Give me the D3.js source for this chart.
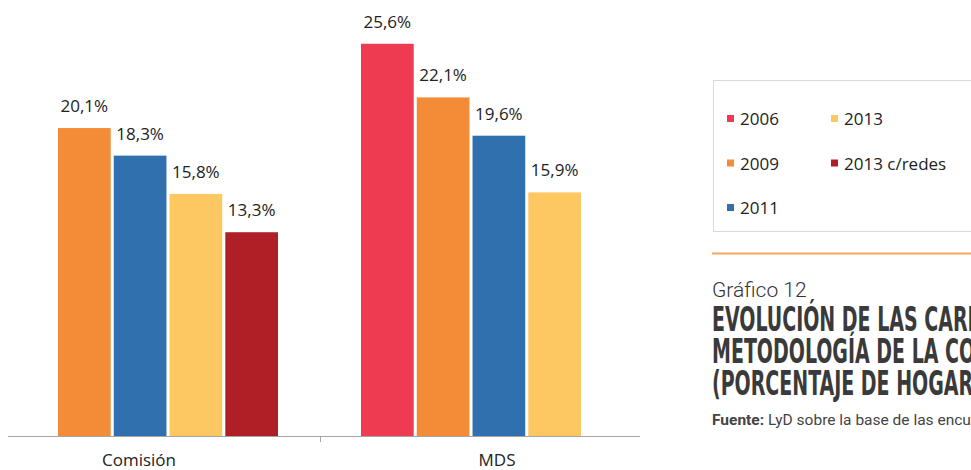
<!DOCTYPE html>
<html>
<head>
<meta charset="utf-8">
<script src="https://cdn.jsdelivr.net/npm/d3@7"></script>
<style>
  body { margin: 0; background: #fff; }
  svg { display: block; }
  .lbl { font-family: "Open Sans", "Noto Sans", sans-serif; fill: #222; }
</style>
</head>
<body>
<div id="chart"></div>
<script>
var categories = ["Comisión", "MDS"];
var series = ["2006", "2009", "2011", "2013", "2013 c/redes"];
var comision = [null, 20.1, 18.3, 15.8, 13.3];
var mds = [25.6, 22.1, 19.6, 15.9, null];
var colors = ["#ee3b52", "#f48c37", "#3070ae", "#fdc761", "#b11f26"];
var legendOrder = ["2006", "2013", "2009", "2013 c/redes", "2011"];

var width = 971, height = 470;
var baseline = 436;

var svg = d3.select("#chart").append("svg")
  .attr("width", width)
  .attr("height", height);

var values = [comision, mds];
var data = categories.map(function(c, i) {
  return {
    cat: c,
    bars: series.map(function(s, j) { return {serie: s, value: values[i][j], color: colors[j]}; })
      .filter(function(d) { return d.value != null; })
  };
});

var x0 = d3.scaleBand().domain(categories).range([16.5, 622.5]);
var xLabel = d3.scalePoint().domain(categories).range([139, 497]);
var y = d3.scaleLinear().domain([0, 28]).range([baseline, 7]);

// axis line + middle tick
svg.append("line")
  .attr("x1", 8).attr("x2", 640)
  .attr("y1", baseline + 0.5).attr("y2", baseline + 0.5)
  .attr("stroke", "#a6a6a6").attr("stroke-width", 1.2);
svg.append("line")
  .attr("x1", 320.5).attr("x2", 320.5)
  .attr("y1", baseline).attr("y2", baseline + 6)
  .attr("stroke", "#a6a6a6");

var groups = svg.selectAll(".grp").data(data).enter().append("g")
  .attr("class", "grp")
  .attr("transform", function(d) {
    return "translate(" + (x0(d.cat) + (x0.bandwidth() - 220) / 2) + ",0)";
  });

groups.each(function(g) {
  var x1 = d3.scaleBand().domain(d3.range(g.bars.length)).range([0, 220]).paddingInner(0.055);
  var sel = d3.select(this);
  sel.selectAll("rect").data(g.bars).enter().append("rect")
    .attr("x", function(d, i) { return x1(i); })
    .attr("width", x1.bandwidth())
    .attr("y", function(d) { return y(d.value); })
    .attr("height", function(d) { return baseline - y(d.value); })
    .attr("fill", function(d) { return d.color; });
  sel.selectAll("text").data(g.bars).enter().append("text")
    .attr("class", "lbl")
    .attr("x", function(d, i) { return x1(i) + x1.bandwidth() / 2; })
    .attr("y", function(d) { return y(d.value) - 16; })
    .attr("text-anchor", "middle")
    .style("font-size", "17px")
    .text(function(d) { return d3.format(".1f")(d.value).replace(".", ",") + "%"; });
});

svg.selectAll(".cat").data(categories).enter().append("text")
  .attr("class", "lbl")
  .attr("x", function(d) { return xLabel(d); })
  .attr("y", 466)
  .attr("text-anchor", "middle")
  .style("font-size", "17px")
  .text(function(d) { return d; });

// legend box
svg.append("rect")
  .attr("x", 713.5).attr("y", 80.5)
  .attr("width", 300).attr("height", 151)
  .attr("fill", "none").attr("stroke", "#d9d9d9");

var legend = svg.append("g").selectAll("g")
  .data(legendOrder).enter().append("g")
  .attr("transform", function(d, i) {
    var col = i % 2, row = Math.floor(i / 2);
    return "translate(" + (727 + col * 104) + "," + (119 + row * 44.5) + ")";
  });

legend.append("rect")
  .attr("x", 0).attr("y", -4)
  .attr("width", 7).attr("height", 7)
  .attr("fill", function(d) { return colors[series.indexOf(d)]; });

legend.append("text")
  .attr("class", "lbl")
  .attr("x", 13).attr("y", 6)
  .style("font-size", "17px")
  .text(function(d) { return d; });

// orange separator
svg.append("line")
  .attr("x1", 712).attr("x2", 971)
  .attr("y1", 253.5).attr("y2", 253.5)
  .attr("stroke", "#f6a55a").attr("stroke-width", 2);

svg.append("text")
  .attr("x", 712).attr("y", 297)
  .style("font-family", "Roboto, sans-serif")
  .style("font-weight", 300)
  .style("font-size", "21px")
  .style("fill", "#333")
  .text("Gráfico 12");

var titleLines = ["EVOLUCIÓN DE LAS CARENCIAS", "METODOLOGÍA DE LA COMISIÓN", "(PORCENTAJE DE HOGARES)"];
svg.append("g")
  .attr("transform", "translate(712,0) scale(0.64,1)")
  .selectAll("text").data(titleLines).enter().append("text")
  .attr("x", 0)
  .attr("y", function(d, i) { return 331 + i * 32; })
  .style("font-family", "'DejaVu Sans Condensed', 'DejaVu Sans', sans-serif")
  .style("font-weight", "bold")
  .style("font-size", "33px")
  .style("fill", "#3a3a3a")
  .text(function(d) { return d; });

var fuente = svg.append("text")
  .attr("x", 712).attr("y", 425)
  .style("font-family", "Roboto, sans-serif")
  .style("font-size", "15.5px")
  .style("fill", "#444");
fuente.append("tspan").style("font-weight", "bold").text("Fuente:");
fuente.append("tspan").text(" LyD sobre la base de las encuestas");
</script>
</body>
</html>
